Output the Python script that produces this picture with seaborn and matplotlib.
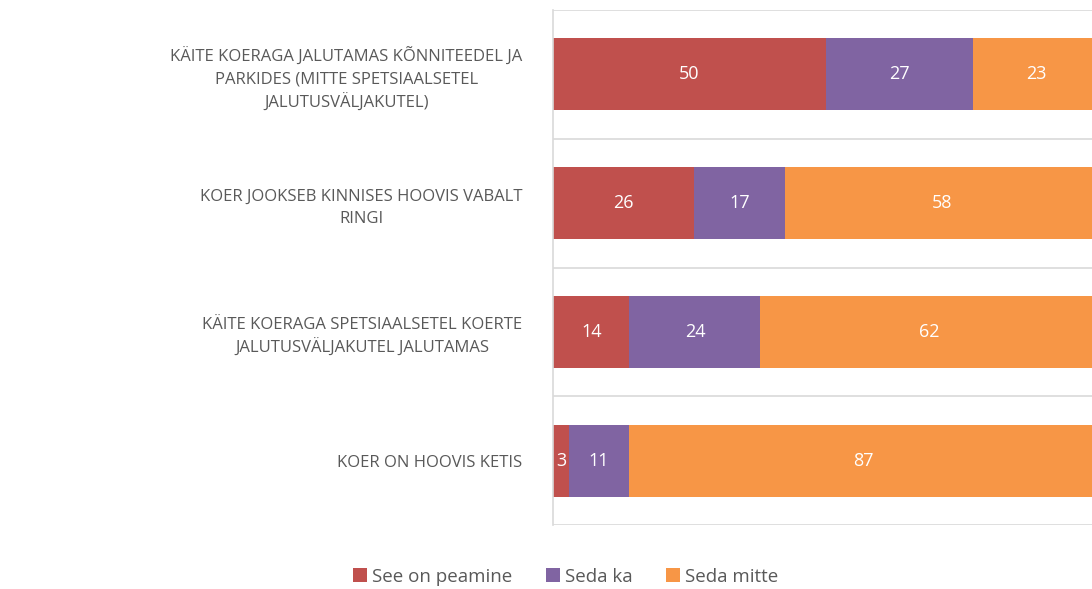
import numpy as np
import pandas as pd
import matplotlib
matplotlib.use("Agg")
import matplotlib.pyplot as plt
import seaborn as sns
from matplotlib.patches import Patch

categories = [
    "KÄITE KOERAGA JALUTAMAS KÕNNITEEDEL JA\nPARKIDES (MITTE SPETSIAALSETEL\nJALUTUSVÄLJAKUTEL)",
    "KOER JOOKSEB KINNISES HOOVIS VABALT\nRINGI",
    "KÄITE KOERAGA SPETSIAALSETEL KOERTE\nJALUTUSVÄLJAKUTEL JALUTAMAS",
    "KOER ON HOOVIS KETIS",
]
see_on_peamine = [50, 26, 14, 3]
seda_ka = [27, 17, 24, 11]
seda_mitte = [23, 58, 62, 87]
series_names = ["See on peamine", "Seda ka", "Seda mitte"]
colors = ["#C0504D", "#8064A2", "#F79646"]

sns.set_theme(style="white")
plt.rcParams["font.family"] = ["Open Sans", "DejaVu Sans"]

vals = np.array([see_on_peamine, seda_ka, seda_mitte], dtype=float)
totals = vals.sum(axis=0)
shares = vals / totals * 100  # 100% stacked
cum = np.cumsum(shares, axis=0)

fig = plt.figure(figsize=(10.92, 5.89), dpi=100)
ax = fig.add_axes([553 / 1092, 1 - 525 / 589, 546 / 1092, 515 / 589])

order = list(range(len(categories)))
for i in reversed(range(3)):
    df = pd.DataFrame({"pos": order, "val": cum[i]})
    sns.barplot(data=df, x="val", y="pos", orient="h", native_scale=True,
                color=colors[i], saturation=1, width=0.56, ax=ax,
                linewidth=0, edgecolor="none")

for i in range(3):
    starts = cum[i] - shares[i]
    for j in range(len(categories)):
        ax.text(starts[j] + shares[i][j] / 2, j,
                f"{int(vals[i][j])}", ha="center", va="center",
                color="white", fontsize=13)

ax.set_xlim(0, 100)
ax.set_ylim(3.5, -0.5)
ax.set_yticks(order)
ax.set_yticklabels(categories)
for lbl in ax.get_yticklabels():
    lbl.set_multialignment("center")
    lbl.set_horizontalalignment("right")
    lbl.set_color("#595959")
    lbl.set_fontsize(12)
    lbl.set_linespacing(1.45)
ax.tick_params(axis="y", length=0, pad=22)
ax.set_xticks([])
ax.set_xlabel("")
ax.set_ylabel("")
ax.set_yticks([-0.5, 0.5, 1.5, 2.5, 3.5], minor=True)
ax.tick_params(axis="y", which="minor", length=0)
ax.grid(which="minor", axis="y", color="#D9D9D9", linewidth=1.2)
ax.set_axisbelow(True)
for s in ["top", "right", "bottom"]:
    ax.spines[s].set_visible(False)
ax.spines["left"].set_color("#D9D9D9")
ax.spines["left"].set_linewidth(1.2)

handles = [Patch(facecolor=c, edgecolor="none", label=n) for c, n in zip(colors, series_names)]
fig.legend(handles=handles, loc="center", bbox_to_anchor=(0.518, 0.021), ncol=3,
           frameon=False, fontsize=13.5, handlelength=0.75, handleheight=0.75,
           handletextpad=0.25, columnspacing=1.8, labelcolor="#595959")

fig.savefig("out.png", dpi=100)
